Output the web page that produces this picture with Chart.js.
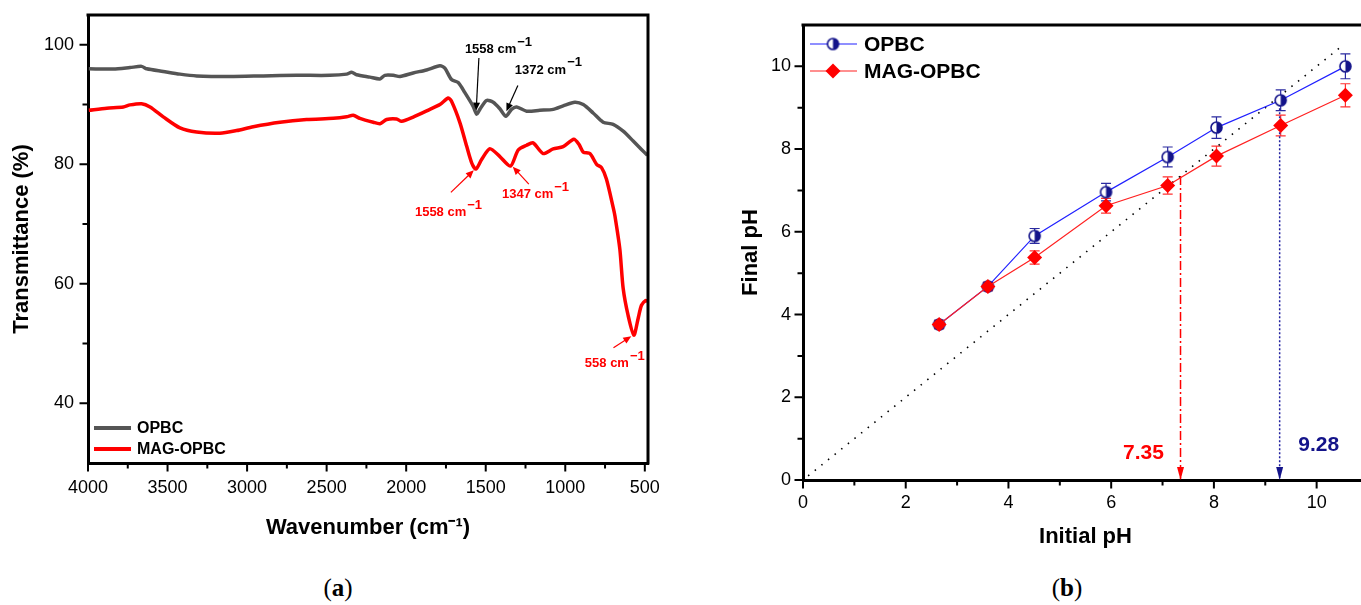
<!DOCTYPE html>
<html>
<head>
<meta charset="utf-8">
<script src="https://cdn.jsdelivr.net/npm/chart.js@4.4.0/dist/chart.umd.min.js"></script>
<style>
    html, body { margin: 0; padding: 0; background: #fff; overflow: hidden; width: 1361px; height: 605px; }
    #wrapA { position: absolute; left: 0; top: 0; width: 680px; height: 560px; }
    #wrapB { position: absolute; left: 690px; top: 0; width: 690px; height: 560px; }
    .cap { position: absolute; top: 574px; font-family: 'Liberation Serif', 'DejaVu Serif', serif; font-size: 25px; transform: translateX(-50%); }
</style>
</head>
<body>
<div id="wrapA"><canvas id="ftir"></canvas></div>
<div id="wrapB"><canvas id="phDrift"></canvas></div>
<div class="cap" style="left:338px">(<b>a</b>)</div>
<div class="cap" style="left:1067px">(<b>b</b>)</div>

<script>
// ─── Panel (a): FTIR spectra ──────────────────────────────────────────────
const opbcWn = [3995, 3841, 3736, 3663, 3631, 3527, 3422, 3317, 3108, 2898, 2689, 2479, 2374, 2343, 2312,
    2228, 2165, 2134, 2081, 2039, 1956, 1872, 1788, 1757, 1715, 1673, 1631, 1579, 1557, 1537, 1495,
    1453, 1411, 1373, 1338, 1306, 1243, 1160, 1076, 1013, 940, 887, 825, 762, 699, 636, 573, 521, 484];
const opbcT = [96.0, 95.95, 96.2, 96.4, 96.0, 95.55, 95.1, 94.8, 94.7, 94.8, 94.9, 94.9, 95.1, 95.4, 95.0,
    94.6, 94.3, 94.9, 94.9, 94.7, 95.3, 95.8, 96.5, 96.1, 94.2, 93.7, 92.0, 89.7, 88.4, 89.2, 90.7,
    90.4, 89.3, 88.05, 89.2, 89.6, 88.9, 89.05, 89.2, 89.8, 90.4, 90.0, 88.6, 87.05, 86.7, 85.55, 83.9, 82.5, 81.5];

const magWn = [3995, 3882, 3778, 3736, 3663, 3610, 3527, 3422, 3317, 3171, 3066, 2961, 2793, 2626, 2458,
    2374, 2333, 2291, 2207, 2165, 2123, 2060, 2029, 1956, 1851, 1788, 1736, 1715, 1662, 1620, 1589,
    1562, 1526, 1474, 1411, 1344, 1296, 1243, 1202, 1139, 1076, 1013, 946, 913, 887, 845, 803, 772,
    741, 699, 688, 657, 636, 605, 569, 542, 521, 494, 484];
const magT = [89.05, 89.4, 89.6, 89.95, 90.15, 89.6, 87.95, 86.1, 85.4, 85.2, 85.65, 86.3, 87.05, 87.5, 87.7,
    87.95, 88.2, 87.7, 87.05, 86.8, 87.5, 87.6, 87.2, 87.9, 89.2, 90.0, 91.1, 90.55, 86.95, 83.05, 80.3,
    79.2, 80.8, 82.6, 81.3, 79.7, 82.4, 83.2, 83.6, 81.8, 82.6, 82.95, 84.2, 83.3, 82.05, 81.8, 80.0, 79.45,
    77.5, 72.8, 71.4, 65.8, 59.2, 54.7, 51.4, 54.2, 56.4, 57.2, 57.0];

const ftirSeries = ['OPBC', 'MAG-OPBC'];

// axis ticks: labelled every other one
const wnTicks = [500, 750, 1000, 1250, 1500, 1750, 2000, 2250, 2500, 2750, 3000, 3250, 3500, 3750, 4000];
const tTicks = [40, 50, 60, 70, 80, 90, 100];

// peak call-outs, in axis units (wavenumber, %T)
const ftirNotes = [
    { text: '1558 cm', color: '#000', at: [1631, 99.2], from: [1543, 97.8], to: [1560, 89.0] },
    { text: '1372 cm', color: '#000', at: [1317, 95.8], from: [1298, 93.2], to: [1370, 88.9] },
    { text: '1558 cm', color: '#ff0000', at: [1945, 72.0], from: [1719, 75.3], to: [1575, 79.0] },
    { text: '1347 cm', color: '#ff0000', at: [1398, 75.0], from: [1229, 76.7], to: [1330, 79.6] },
    { text: '558 cm', color: '#ff0000', at: [877, 46.7], from: [697, 49.3], to: [585, 51.2] }
];

// ─── Panel (b): pH drift ─────────────────────────────────────────────────
const initialPh = [2.65, 3.6, 4.51, 5.9, 7.1, 8.05, 9.3, 10.56];
const opbcFinal = [3.76, 4.68, 5.9, 6.96, 7.81, 8.52, 9.18, 10.0];
const opbcErr = [0.1, 0.1, 0.18, 0.21, 0.24, 0.26, 0.25, 0.3];
const magFinal = [3.76, 4.68, 5.38, 6.63, 7.12, 7.83, 8.57, 9.3];
const magErr = [0.1, 0.1, 0.16, 0.18, 0.21, 0.24, 0.25, 0.28];
const diagonal = [0.1, 10.5];
const pzcMag = 7.35;
const pzcOpbc = 9.28;
const phTicks = [0, 1, 2, 3, 4, 5, 6, 7, 8, 9, 10];

const FONT = '"Liberation Sans", Arial, sans-serif';
const NAVY = '#14148a';

const toPoints = (xs, ys) => xs.map((x, i) => ({ x, y: ys[i] }));
const useTicks = list => scale => { scale.ticks = list.map(value => ({ value })); };

// fixed axis box, no extra room asked for overhanging labels
const fixBox = (prop, size) => scale => {
    scale[prop] = size;
    scale.paddingTop = scale.paddingBottom = scale.paddingLeft = scale.paddingRight = 0;
};

function drawArrow(ctx, x1, y1, x2, y2, color, width = 1.2, head = 8, half = 3.5) {
    const a = Math.atan2(y2 - y1, x2 - x1);
    const c = Math.cos(a), s = Math.sin(a);
    ctx.save();
    ctx.strokeStyle = color;
    ctx.fillStyle = color;
    ctx.lineWidth = width;
    ctx.beginPath();
    ctx.moveTo(x1, y1);
    ctx.lineTo(x2 - c * head * 0.8, y2 - s * head * 0.8);
    ctx.stroke();
    ctx.beginPath();
    ctx.moveTo(x2, y2);
    ctx.lineTo(x2 - c * head + s * half, y2 - s * head - c * half);
    ctx.lineTo(x2 - c * head - s * half, y2 - s * head + c * half);
    ctx.closePath();
    ctx.fill();
    ctx.restore();
}

// "cm" label with a raised -1
function drawCmLabel(ctx, text, x, y, color, size) {
    ctx.save();
    ctx.fillStyle = color;
    ctx.textAlign = 'left';
    ctx.textBaseline = 'middle';
    ctx.font = `bold ${size}px ${FONT}`;
    ctx.fillText(text, x, y);
    const w = ctx.measureText(text).width;
    ctx.fillText('\u22121', x + w + 1, y - size * 0.55);
    ctx.restore();
}

// outward tick marks, long for labelled ticks and short for the others
function drawTickMarks(chart, major, minor) {
    const { ctx, chartArea: area, scales: { x, y } } = chart;
    ctx.save();
    ctx.strokeStyle = '#000';
    ctx.lineWidth = 2;
    ctx.beginPath();
    x.ticks.forEach(t => {
        const px = x.getPixelForValue(t.value);
        const len = t.label !== '' ? major : minor;
        ctx.moveTo(px, area.bottom);
        ctx.lineTo(px, area.bottom + 1.5 + len);
    });
    y.ticks.forEach(t => {
        const py = y.getPixelForValue(t.value);
        const len = t.label !== '' ? major : minor;
        ctx.moveTo(area.left, py);
        ctx.lineTo(area.left - 1.5 - len, py);
    });
    ctx.stroke();
    ctx.restore();
}

// circle with its right half filled
function halfCircle(r, color) {
    const c = document.createElement('canvas');
    const size = Math.ceil(r * 2 + 4);
    c.width = size;
    c.height = size;
    const g = c.getContext('2d');
    const m = size / 2;
    g.fillStyle = '#fff';
    g.beginPath(); g.arc(m, m, r, 0, Math.PI * 2); g.fill();
    g.fillStyle = color;
    g.beginPath(); g.arc(m, m, r, -Math.PI / 2, Math.PI / 2); g.closePath(); g.fill();
    g.strokeStyle = color;
    g.lineWidth = 1.6;
    g.beginPath(); g.arc(m, m, r, 0, Math.PI * 2); g.stroke();
    return c;
}
const opbcMarker = halfCircle(5.5, NAVY);

const axisGrid = { drawOnChartArea: false, drawTicks: false, color: '#000' };
const axisBorder = { color: '#000', width: 3 };
const tickFont = { family: FONT, size: 18 };
const titleFont = { family: FONT, size: 22, weight: 'bold' };

// ─── FTIR chart ──────────────────────────────────────────────────────────
const ftirDecor = {
    id: 'ftirDecor',
    afterDatasetsDraw(chart) {
        const { ctx, chartArea: area, scales: { x, y } } = chart;

        // top and right frame
        ctx.save();
        ctx.strokeStyle = '#000';
        ctx.lineWidth = 3;
        ctx.beginPath();
        ctx.moveTo(area.left - 1.5, area.top);
        ctx.lineTo(area.right, area.top);
        ctx.lineTo(area.right, area.bottom + 1.5);
        ctx.stroke();
        ctx.restore();
        drawTickMarks(chart, 7, 4);

        ftirNotes.forEach(n => {
            drawArrow(ctx, x.getPixelForValue(n.from[0]), y.getPixelForValue(n.from[1]),
                x.getPixelForValue(n.to[0]), y.getPixelForValue(n.to[1]), n.color);
            drawCmLabel(ctx, n.text, x.getPixelForValue(n.at[0]), y.getPixelForValue(n.at[1]), n.color, 13);
        });

        // legend, bottom-left
        chart.data.datasets.forEach((ds, i) => {
            const yy = area.bottom - 35 + i * 21;
            ctx.save();
            ctx.strokeStyle = ds.borderColor;
            ctx.lineWidth = 4;
            ctx.beginPath();
            ctx.moveTo(area.left + 6, yy);
            ctx.lineTo(area.left + 43, yy);
            ctx.stroke();
            ctx.fillStyle = '#000';
            ctx.font = `bold 16px ${FONT}`;
            ctx.textBaseline = 'middle';
            ctx.fillText(ds.label, area.left + 49, yy + 1);
            ctx.restore();
        });
    }
};

new Chart(document.getElementById('ftir'), {
    type: 'line',
    data: {
        datasets: [
            { label: ftirSeries[0], data: toPoints(opbcWn, opbcT), borderColor: '#555555', borderWidth: 3.5,
              pointRadius: 0, tension: 0.25 },
            { label: ftirSeries[1], data: toPoints(magWn, magT), borderColor: '#ff0000', borderWidth: 3.5,
              pointRadius: 0, tension: 0.25 }
        ]
    },
    options: {
        responsive: true,
        maintainAspectRatio: false,
        animation: false,
        layout: { padding: { top: 15, right: 32, bottom: 0, left: 0 } },
        plugins: { legend: { display: false }, tooltip: { enabled: false } },
        scales: {
            x: {
                type: 'linear',
                reverse: true,
                min: 480,
                max: 4000,
                afterBuildTicks: useTicks(wnTicks),
                afterFit: fixBox('height', 97),
                ticks: {
                    autoSkip: false, maxRotation: 0, padding: 14, color: '#000', font: tickFont,
                    callback: v => (v % 500 === 0 ? String(v) : '')
                },
                grid: axisGrid,
                border: axisBorder,
                title: {
                    display: true, text: 'Wavenumber (cm\u207B\u00B9)', color: '#000',
                    font: titleFont, padding: { top: 0, bottom: 19 }
                }
            },
            y: {
                min: 30,
                max: 105,
                afterBuildTicks: useTicks(tTicks),
                afterFit: fixBox('width', 88),
                ticks: {
                    autoSkip: false, padding: 14, color: '#000', font: tickFont,
                    callback: v => (v % 20 === 0 ? String(v) : '')
                },
                grid: axisGrid,
                border: axisBorder,
                title: {
                    display: true, text: 'Transmittance (%)', color: '#000',
                    font: titleFont, padding: { top: 9, bottom: 0 }
                }
            }
        }
    },
    plugins: [ftirDecor]
});

// ─── pH drift chart ──────────────────────────────────────────────────────
const driftDecor = {
    id: 'driftDecor',
    beforeDatasetsDraw(chart) {
        const { ctx, scales: { x, y } } = chart;
        const bars = [[opbcFinal, opbcErr, '#2a2aa0'], [magFinal, magErr, '#ff3030']];
        ctx.save();
        ctx.lineWidth = 1.2;
        bars.forEach(([vals, errs, color]) => {
            ctx.strokeStyle = color;
            initialPh.forEach((ph, i) => {
                const px = x.getPixelForValue(ph);
                const top = y.getPixelForValue(vals[i] + errs[i]);
                const bot = y.getPixelForValue(vals[i] - errs[i]);
                ctx.beginPath();
                ctx.moveTo(px, top); ctx.lineTo(px, bot);
                ctx.moveTo(px - 5, top); ctx.lineTo(px + 5, top);
                ctx.moveTo(px - 5, bot); ctx.lineTo(px + 5, bot);
                ctx.stroke();
            });
        });
        ctx.restore();
    },
    afterDatasetsDraw(chart) {
        const { ctx, chartArea: area, scales: { x, y } } = chart;

        // top frame
        ctx.save();
        ctx.strokeStyle = '#000';
        ctx.lineWidth = 3;
        ctx.beginPath();
        ctx.moveTo(area.left - 1.5, area.top);
        ctx.lineTo(area.right, area.top);
        ctx.stroke();
        ctx.restore();
        drawTickMarks(chart, 7, 4);

        // arrow heads and pH(pzc) values
        [[pzcMag, '#ff0000', -37, 27], [pzcOpbc, NAVY, 39, 35]].forEach(([v, color, dx, dy]) => {
            const px = x.getPixelForValue(v);
            const py = y.getPixelForValue(0);
            ctx.save();
            ctx.fillStyle = color;
            ctx.beginPath();
            ctx.moveTo(px, py);
            ctx.lineTo(px - 3.5, py - 13);
            ctx.lineTo(px + 3.5, py - 13);
            ctx.closePath();
            ctx.fill();
            ctx.font = `bold 21px ${FONT}`;
            ctx.textAlign = 'center';
            ctx.textBaseline = 'middle';
            ctx.fillText(v.toFixed(2), px + dx, py - dy);
            ctx.restore();
        });

        // legend, top-left
        [chart.data.datasets[0], chart.data.datasets[1]].forEach((ds, i) => {
            const yy = area.top + 19 + i * 27;
            ctx.save();
            ctx.strokeStyle = ds.borderColor;
            ctx.lineWidth = 1.2;
            ctx.beginPath();
            ctx.moveTo(area.left + 7, yy);
            ctx.lineTo(area.left + 54, yy);
            ctx.stroke();
            const mx = area.left + 30;
            if (ds.pointStyle === 'rectRot') {
                ctx.fillStyle = ds.backgroundColor;
                ctx.beginPath();
                ctx.moveTo(mx, yy - 7.5); ctx.lineTo(mx + 7.5, yy);
                ctx.lineTo(mx, yy + 7.5); ctx.lineTo(mx - 7.5, yy);
                ctx.closePath();
                ctx.fill();
            } else {
                ctx.drawImage(ds.pointStyle, mx - ds.pointStyle.width / 2, yy - ds.pointStyle.height / 2);
            }
            ctx.fillStyle = '#000';
            ctx.font = `bold 21px ${FONT}`;
            ctx.textBaseline = 'middle';
            ctx.fillText(ds.label, area.left + 61, yy + 1);
            ctx.restore();
        });
    }
};

new Chart(document.getElementById('phDrift'), {
    type: 'line',
    data: {
        datasets: [
            { label: 'OPBC', data: toPoints(initialPh, opbcFinal), borderColor: '#2020ff', borderWidth: 1.2,
              pointStyle: opbcMarker, backgroundColor: NAVY, order: 1 },
            { label: 'MAG-OPBC', data: toPoints(initialPh, magFinal), borderColor: '#ff2020', borderWidth: 1.2,
              pointStyle: 'rectRot', pointRadius: 7.5, backgroundColor: '#ff0000', pointBorderWidth: 0, order: 0 },
            { label: 'y = x', data: toPoints(diagonal, diagonal), borderColor: '#000', borderWidth: 1.6,
              borderDash: [1.5, 7], pointRadius: 0, order: 2 },
            { label: 'pzc MAG-OPBC', data: toPoints([pzcMag, pzcMag], [pzcMag, 0]), borderColor: '#ff0000',
              borderWidth: 1.5, borderDash: [9, 3, 2, 3], pointRadius: 0, order: 3 },
            { label: 'pzc OPBC', data: toPoints([pzcOpbc, pzcOpbc], [pzcOpbc, 0]), borderColor: '#2020a0',
              borderWidth: 1.5, borderDash: [2, 2], pointRadius: 0, order: 3 }
        ]
    },
    options: {
        responsive: true,
        maintainAspectRatio: false,
        animation: false,
        layout: { padding: { top: 25, right: 12, bottom: 0, left: 0 } },
        plugins: { legend: { display: false }, tooltip: { enabled: false } },
        scales: {
            x: {
                type: 'linear',
                min: 0,
                max: 11,
                afterBuildTicks: useTicks(phTicks),
                afterFit: fixBox('height', 80),
                ticks: {
                    autoSkip: false, maxRotation: 0, padding: 12, color: '#000', font: tickFont,
                    callback: v => (v % 2 === 0 ? String(v) : '')
                },
                grid: axisGrid,
                border: axisBorder,
                title: {
                    display: true, text: 'Initial pH', color: '#000',
                    font: titleFont, padding: { top: 0, bottom: 10 }
                }
            },
            y: {
                min: 0,
                max: 11,
                afterBuildTicks: useTicks(phTicks),
                afterFit: fixBox('width', 113),
                ticks: {
                    autoSkip: false, padding: 12, color: '#000', font: tickFont,
                    callback: v => (v % 2 === 0 ? String(v) : '')
                },
                grid: axisGrid,
                border: axisBorder,
                title: {
                    display: true, text: 'Final pH', color: '#000',
                    font: titleFont, padding: { top: 48, bottom: 0 }
                }
            }
        }
    },
    plugins: [driftDecor]
});
</script>
</body>
</html>
